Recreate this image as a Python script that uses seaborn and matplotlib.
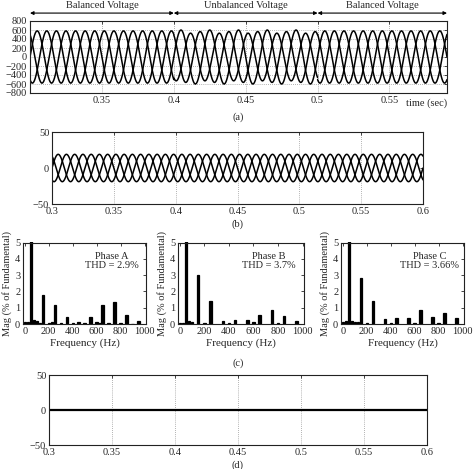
import numpy as np
import pandas as pd
import matplotlib
matplotlib.use("Agg")
import matplotlib.pyplot as plt
from matplotlib.ticker import FuncFormatter
import seaborn as sns

# ---------------- data ----------------
FUND_HZ = 50.0
phase_names = ["A", "B", "C"]
phase_angles_deg = [0.0, -120.0, 120.0]

# panel (a): supply voltage, three segments
segment_bounds = [0.3, 0.4, 0.5, 0.59]
segment_labels = ["Balanced Voltage", "Unbalanced Voltage", "Balanced Voltage"]
volt_amp_A = [580, 600, 580]
volt_amp_B = [580, 530, 580]
volt_amp_C = [580, 565, 580]
volt_yticks = [800, 600, 400, 200, 0, -200, -400, -600, -800]
volt_xticks = [0.35, 0.4, 0.45, 0.5, 0.55]

# panel (b): source current
curr_amp = [19, 19, 19]
curr_xlim = [0.3, 0.6]
curr_xticks = [0.3, 0.35, 0.4, 0.45, 0.5, 0.55, 0.6]
curr_yticks = [-50, 0, 50]

# panel (c): spectra (% of fundamental)
freqs_A = [0, 25, 50, 75, 100, 125, 150, 200, 225, 250, 300, 350, 400, 450, 500,
           550, 600, 625, 650, 700, 750, 800, 850, 900, 950]
mags_A = [0.1, 0.1, 100, 0.25, 0.2, 0.08, 1.75, 0.08, 0.1, 1.15, 0.05, 0.42, 0.05, 0.15, 0.05,
          0.42, 0.1, 0.08, 1.15, 0.05, 1.32, 0.05, 0.55, 0.03, 0.2]
freqs_B = [0, 25, 50, 75, 100, 150, 200, 250, 350, 400, 450, 550, 600, 650, 750, 800, 850, 950]
mags_B = [0.05, 0.05, 100, 0.2, 0.1, 3.0, 0.05, 1.4, 0.18, 0.05, 0.27, 0.27, 0.1, 0.55, 0.83,
          0.05, 0.5, 0.2]
freqs_C = [0, 25, 50, 75, 100, 125, 150, 200, 250, 350, 400, 450, 550, 600, 650, 750, 800, 850, 950]
mags_C = [0.1, 0.18, 100, 0.18, 0.12, 0.1, 2.8, 0.08, 1.4, 0.32, 0.05, 0.35, 0.35, 0.08, 0.85,
          0.42, 0.05, 0.65, 0.35]
thd_labels = ["Phase A\nTHD = 2.9%", "Phase B\nTHD = 3.7%", "Phase C\nTHD = 3.66%"]
spec_xticks = [0, 200, 400, 600, 800, 1000]
spec_yticks = [0, 1, 2, 3, 4, 5]

# panel (d): neutral current
neutral_t = [0.3, 0.6]
neutral_i = [0.0, 0.0]

# ---------------- style ----------------
sns.set_theme(style="white")
plt.rcParams["font.family"] = ["Liberation Serif", "DejaVu Serif"]
plt.rcParams.update({
    "font.size": 7.5,
    "xtick.direction": "in", "ytick.direction": "in",
    "xtick.top": True, "ytick.right": True,
    "xtick.major.size": 2.5, "ytick.major.size": 2.5,
    "xtick.major.width": 0.6, "ytick.major.width": 0.6,
    "xtick.major.pad": 2, "ytick.major.pad": 2,
    "xtick.labelsize": 7.5, "ytick.labelsize": 7.5,
    "axes.linewidth": 0.8, "axes.edgecolor": "#222222",
})

W, H = 477, 469
fig = plt.figure(figsize=(W / 100, H / 100), dpi=100)


def add_ax(left, top, right, bottom):
    return fig.add_axes([left / W, 1 - bottom / H, (right - left) / W, (bottom - top) / H])


fmt = FuncFormatter(lambda v, p: "%g" % v)
grid_kw = dict(color="#999999", linestyle=(0, (1, 1.5)), linewidth=0.6)

# ---- (a) ----
rows = []
amps = {"A": volt_amp_A, "B": volt_amp_B, "C": volt_amp_C}
for name, ang in zip(phase_names, phase_angles_deg):
    for s in range(3):
        t = np.linspace(segment_bounds[s], segment_bounds[s + 1], 800)
        v = amps[name][s] * np.sin(2 * np.pi * FUND_HZ * t + np.deg2rad(ang))
        rows.append(pd.DataFrame({"t": t, "v": v, "phase": name, "seg": s}))
dfa = pd.concat(rows, ignore_index=True)
dfa["key"] = dfa["phase"] + dfa["seg"].astype(str)

axa = add_ax(30, 21, 447, 93)
sns.lineplot(data=dfa, x="t", y="v", units="key", estimator=None, color="black",
             linewidth=1.1, ax=axa, sort=False)
axa.set_xlim(0.3, 0.59)
axa.set_ylim(-800, 800)
axa.set_yticks(volt_yticks)
axa.set_xticks(volt_xticks)
axa.xaxis.set_major_formatter(fmt)
axa.grid(True, **grid_kw)
axa.set_xlabel("")
axa.set_ylabel("")
axa.text(1.0, -0.07, "time (sec)", transform=axa.transAxes, ha="right", va="top", fontsize=7.5)
for s in range(3):
    x0, x1 = segment_bounds[s], segment_bounds[s + 1]
    axa.annotate("", xy=(x0, 1.11), xytext=(x1, 1.11),
                 xycoords=("data", "axes fraction"), textcoords=("data", "axes fraction"),
                 arrowprops=dict(arrowstyle="<|-|>", color="black", lw=0.8,
                                 mutation_scale=5, shrinkA=0, shrinkB=0),
                 annotation_clip=False)
    axa.text((x0 + x1) / 2, 1.15, segment_labels[s], transform=axa.get_xaxis_transform(),
             ha="center", va="bottom", fontsize=7.5)
fig.text(238 / W, 1 - 117 / H, "(a)", ha="center", va="center", fontsize=7.5)

# ---- (b) ----
rows = []
for name, ang, amp in zip(phase_names, phase_angles_deg, curr_amp):
    t = np.linspace(curr_xlim[0], curr_xlim[1], 2500)
    rows.append(pd.DataFrame({"t": t, "i": amp * np.sin(2 * np.pi * FUND_HZ * t + np.deg2rad(ang)),
                              "phase": name}))
dfb = pd.concat(rows, ignore_index=True)
axb = add_ax(52, 132, 423, 204)
sns.lineplot(data=dfb, x="t", y="i", units="phase", estimator=None, color="black",
             linewidth=1.1, ax=axb, sort=False)
axb.set_xlim(*curr_xlim)
axb.set_ylim(-50, 50)
axb.set_xticks(curr_xticks)
axb.set_yticks(curr_yticks)
axb.xaxis.set_major_formatter(fmt)
axb.grid(True, axis="x", **grid_kw)
axb.set_xlabel("")
axb.set_ylabel("")
fig.text(238 / W, 1 - 224 / H, "(b)", ha="center", va="center", fontsize=7.5)

# ---- (c) ----
spec = [(freqs_A, mags_A), (freqs_B, mags_B), (freqs_C, mags_C)]
boxes = [(23, 146), (178, 304), (341, 464)]
for (fr, mg), (l, r), lab in zip(spec, boxes, thd_labels):
    ax = add_ax(l, 242.5, r, 324)
    sns.barplot(x=fr, y=mg, native_scale=True, color="black", width=0.8,
                saturation=1, edgecolor="black", linewidth=0.9, ax=ax)
    ax.set_xlim(-15, 1012)
    ax.set_ylim(0, 5)
    ax.set_xticks(spec_xticks)
    ax.set_yticks(spec_yticks)
    ax.set_xlabel("Frequency (Hz)", fontsize=8, labelpad=2)
    ax.set_ylabel("Mag (% of Fundamental)", fontsize=7.5, labelpad=2)
    ax.text(0.72, 0.88, lab, transform=ax.transAxes, ha="center", va="top", fontsize=7.5,
            linespacing=1.0)
fig.text(238 / W, 1 - 363 / H, "(c)", ha="center", va="center", fontsize=7.5)

# ---- (d) ----
dfd = pd.DataFrame({"t": neutral_t, "i": neutral_i})
axd = add_ax(49, 375, 427, 445)
sns.lineplot(data=dfd, x="t", y="i", color="black", linewidth=1.6, ax=axd)
axd.set_xlim(*curr_xlim)
axd.set_ylim(-50, 50)
axd.set_xticks(curr_xticks)
axd.set_yticks(curr_yticks)
axd.xaxis.set_major_formatter(fmt)
axd.grid(True, axis="x", **grid_kw)
axd.set_xlabel("")
axd.set_ylabel("")
fig.text(238 / W, 1 - 465 / H, "(d)", ha="center", va="center", fontsize=7.5)

fig.savefig("out.png", dpi=100, facecolor="white")
